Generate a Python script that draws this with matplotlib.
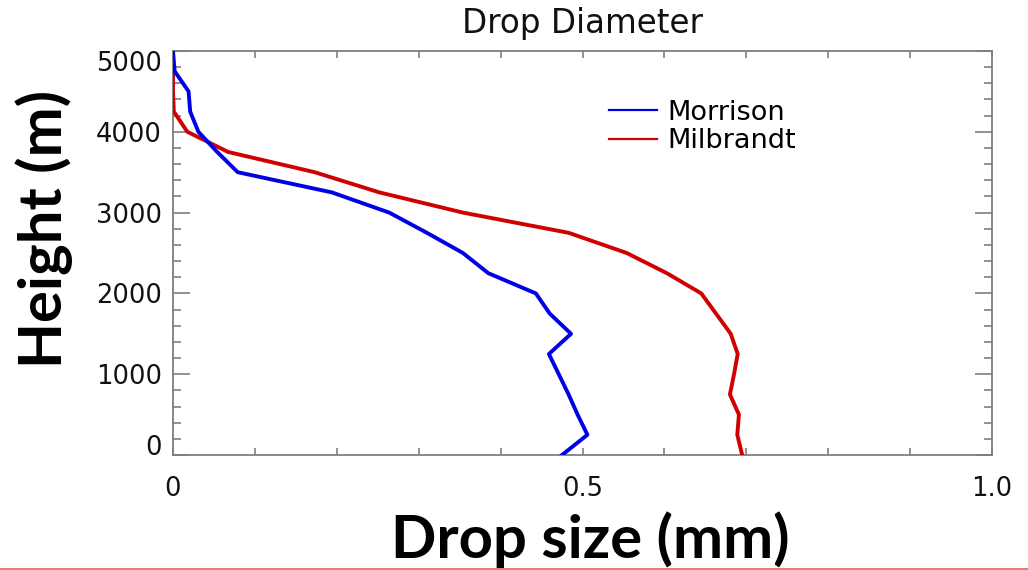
import matplotlib
matplotlib.use("Agg")
import matplotlib.pyplot as plt
from matplotlib.ticker import MultipleLocator
from matplotlib.lines import Line2D

plt.rcParams["font.family"] = "DejaVu Sans"

# Mean drop diameter profiles (mm) against height (m)
height = [0, 250, 500, 750, 1000, 1250, 1500, 1750, 2000, 2250, 2500,
          2750, 3000, 3250, 3500, 3750, 4000, 4250, 4500, 4750, 5000]
morrison = [0.475, 0.506, 0.494, 0.483, 0.471, 0.459, 0.486, 0.460, 0.443,
            0.385, 0.354, 0.310, 0.264, 0.194, 0.079, 0.054, 0.031, 0.021,
            0.019, 0.002, 0.0]
milbrandt = [0.695, 0.689, 0.691, 0.680, 0.685, 0.6895, 0.681, 0.663, 0.645,
             0.603, 0.554, 0.483, 0.354, 0.252, 0.173, 0.0675, 0.0175, 0.001,
             0.0, 0.0, 0.0]

x_ticks = [0, 0.5, 1.0]
x_tick_labels = ["0", "0.5", "1.0"]
y_ticks = [0, 1000, 2000, 3000, 4000, 5000]

fig = plt.figure(figsize=(10.28, 5.70), dpi=100)
ax = fig.add_axes([173 / 1028, 1 - 455 / 570, 819 / 1028, 404 / 570])

ax.plot(milbrandt, height, color="#d00000", lw=2.8, label="Milbrandt", zorder=3)
ax.plot(morrison, height, color="#0000e6", lw=2.8, label="Morrison", zorder=4)

ax.set_xlim(0, 1.0)
ax.set_ylim(0, 5000)

grey = "#7f7f7f"
for s in ax.spines.values():
    s.set_color(grey)
    s.set_linewidth(1.3)

ax.set_xticks(x_ticks)
ax.set_xticklabels(x_tick_labels)
ax.xaxis.set_minor_locator(MultipleLocator(0.1))
ax.set_yticks(y_ticks)
ax.yaxis.set_minor_locator(MultipleLocator(200))

ax.tick_params(axis="both", which="both", direction="in", color=grey, width=1.2,
               top=True, right=True, labelsize=18.5, labelcolor="#111111")
ax.tick_params(axis="x", which="both", length=5, pad=15)
ax.tick_params(axis="y", which="major", length=12.5, pad=8)
ax.tick_params(axis="y", which="minor", length=6)

# keep the end labels inside the axis range
ylabels = ax.get_yticklabels()
ylabels[0].set_va("baseline")
ylabels[-1].set_va("top")

ax.set_title("Drop Diameter", fontsize=23.5, pad=13, color="#111111")

ax.set_xlabel("Drop size (mm)", family="Lato", fontweight="bold", fontsize=43,
              color="black")
ax.xaxis.set_label_coords(0.51, -0.14)
ax.set_ylabel("Height (m)", family="Lato", fontweight="bold", fontsize=43,
              color="black")
ax.yaxis.set_label_coords(-0.122, 0.56)

handles, labels = ax.get_legend_handles_labels()
leg = ax.legend(handles[::-1], labels[::-1], loc="upper left",
                bbox_to_anchor=(0.503, 0.94), frameon=False, fontsize=19.5,
                handlelength=1.75, handletextpad=0.4, labelspacing=0.1)
for h in leg.get_lines():
    h.set_linewidth(1.6)

# thin border line along the bottom of the slide
fig.add_artist(Line2D([0, 1], [0.002, 0.002], color="#e06060", lw=1.2))

fig.savefig("out.png", dpi=100)
